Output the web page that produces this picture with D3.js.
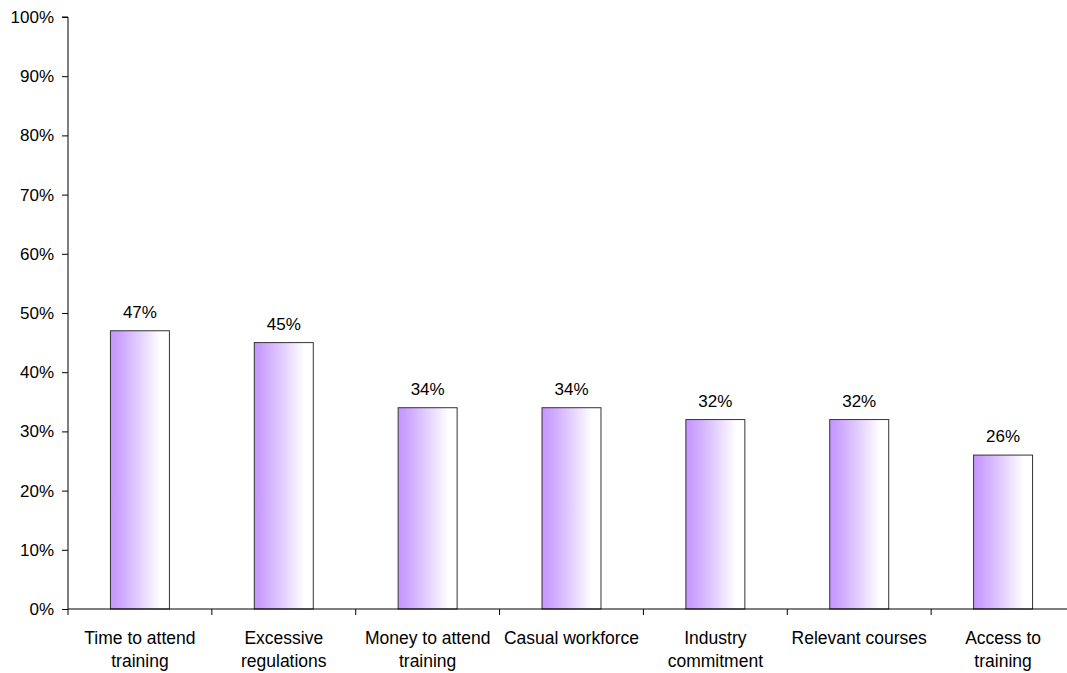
<!DOCTYPE html>
<html>
<head>
<meta charset="utf-8">
<script src="https://cdn.jsdelivr.net/npm/d3@7"></script>
<style>
  html, body { margin: 0; padding: 0; background: #fff; overflow: hidden; }
  svg text { font-family: "Liberation Sans", Arial, sans-serif; fill: #000; }
</style>
</head>
<body>
<svg id="chart" width="1067" height="673"></svg>
<script>
// Barriers to training: share of respondents per barrier
const categories = [
  ["Time to attend", "training"],
  ["Excessive", "regulations"],
  ["Money to attend", "training"],
  ["Casual workforce"],
  ["Industry", "commitment"],
  ["Relevant courses"],
  ["Access to", "training"]
];
const values = [47, 45, 34, 34, 32, 32, 26];
const yTicks = [0, 10, 20, 30, 40, 50, 60, 70, 80, 90, 100];

const svg = d3.select("#chart");
const plotLeft = 68, plotRight = 1075, plotTop = 17, plotBottom = 609;

const x = d3.scaleBand()
  .domain(d3.range(categories.length))
  .range([plotLeft, plotRight])
  .paddingInner(0.59)
  .paddingOuter(0.295);

const y = d3.scaleLinear().domain([0, 100]).range([plotBottom, plotTop]);

// Horizontal gradient used to fill each bar
const defs = svg.append("defs");
const grad = defs.append("linearGradient").attr("id", "barFill")
  .attr("x1", "0%").attr("x2", "100%").attr("y1", "0%").attr("y2", "0%");
grad.append("stop").attr("offset", "0%").attr("stop-color", "#c596ff");
grad.append("stop").attr("offset", "12%").attr("stop-color", "#cba0ff");
grad.append("stop").attr("offset", "50%").attr("stop-color", "#e4d0ff");
grad.append("stop").attr("offset", "85%").attr("stop-color", "#ffffff");
grad.append("stop").attr("offset", "100%").attr("stop-color", "#ffffff");

// Bars
svg.append("g").selectAll("rect").data(values).join("rect")
  .attr("x", (d, i) => x(i))
  .attr("y", d => y(d))
  .attr("width", x.bandwidth())
  .attr("height", d => y(0) - y(d))
  .attr("fill", "url(#barFill)")
  .attr("stroke", "#333")
  .attr("stroke-width", 1);

// Value labels above bars
svg.append("g").selectAll("text").data(values).join("text")
  .attr("x", (d, i) => x(i) + x.bandwidth() / 2)
  .attr("y", d => y(d) - 13)
  .attr("text-anchor", "middle")
  .attr("font-size", 17)
  .text(d => d + "%");

// Y axis
const yAxis = d3.axisLeft(y).tickValues(yTicks).tickFormat(d => d + "%").tickSize(6).tickPadding(8);
const gy = svg.append("g").attr("transform", `translate(${plotLeft},0)`).call(yAxis);
gy.select(".domain").attr("stroke", "#000").attr("d", `M-6,${plotTop}H0V${plotBottom}`);
gy.selectAll(".tick line").attr("stroke", "#000");
gy.selectAll(".tick text").attr("font-size", 17).attr("font-family", "Liberation Sans, Arial, sans-serif").attr("fill", "#000");

// X axis line and category separators
const gx = svg.append("g");
gx.append("line").attr("x1", plotLeft).attr("x2", 1067).attr("y1", plotBottom).attr("y2", plotBottom).attr("stroke", "#000");
const step = x.step();
const edges = d3.range(categories.length + 1).map(i => x(0) - x.paddingOuter() * step + i * step);
gx.selectAll("line.sep").data(edges).join("line").attr("class", "sep")
  .attr("x1", d => d).attr("x2", d => d)
  .attr("y1", plotBottom).attr("y2", plotBottom + 6)
  .attr("stroke", "#000");

// Category labels (wrapped)
const lab = svg.append("g").selectAll("text").data(categories).join("text")
  .attr("x", (d, i) => x(i) + x.bandwidth() / 2)
  .attr("y", plotBottom + 35)
  .attr("text-anchor", "middle")
  .attr("font-size", 17.5);
lab.selectAll("tspan").data(d => d).join("tspan")
  .attr("x", function () { return this.parentNode.getAttribute("x"); })
  .attr("dy", (d, i) => i === 0 ? 0 : 23)
  .text(d => d);
</script>
</body>
</html>
